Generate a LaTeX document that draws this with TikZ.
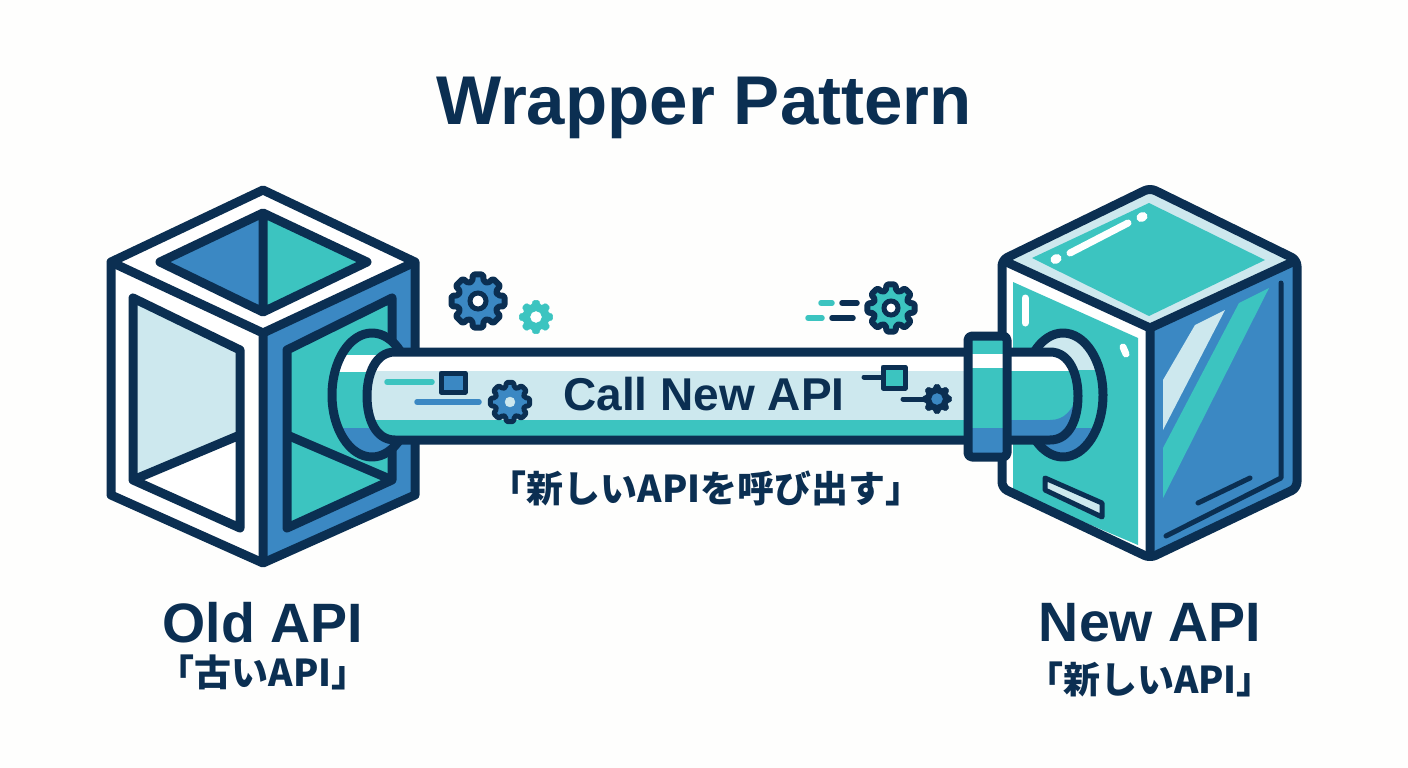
\documentclass[tikz,border=0pt]{standalone}
\usepackage{fontspec}
\setmainfont{Liberation Sans}
\newfontfamily\cjk{Noto Sans CJK JP}
\definecolor{navy}{HTML}{0B2F52}
\definecolor{azure}{HTML}{3B88C3}
\definecolor{aqua}{HTML}{3CC4C0}
\definecolor{pale}{HTML}{CDE8EE}
\definecolor{paper}{HTML}{FEFEFD}
\newcommand\gear[5]{%
  \begin{scope}[shift={(#1)}]
    \filldraw[#3, line join=round, rounded corners=1.5pt] (-16:#2*0.76)
      \foreach \a in {0,45,...,315} {
        -- (\a-16:#2*0.76) -- (\a-11:#2) -- (\a+11:#2) -- (\a+16:#2*0.76)
      } -- cycle;
    \filldraw[#4] (0,0) circle (#5);
  \end{scope}}
\begin{document}
\begin{tikzpicture}
      [x=1pt, y=-1pt,
      outline/.style={draw=navy, line width=9pt, line join=round},
      thin outline/.style={draw=navy, line width=5pt, line join=round},
      dash line/.style={line width=5.5pt, line cap=round},
      big label/.style={text=navy, font=\fontsize{55.5}{56}\selectfont\bfseries},
      sub label/.style={text=navy, font=\fontsize{37}{37}\selectfont\cjk\bfseries}]
      \useasboundingbox (0,0) rectangle (1408,768);
      \fill[paper] (0,0) rectangle (1408,768);
      \node[anchor=base, text=navy, font=\fontsize{69}{69}\selectfont\bfseries] (title) at (704,124) {Wrapper Pattern};
      % old cube
      \fill[white] (263,190) -- (415,262) -- (415,495) -- (263,563) -- (111,495) -- (111,262) -- cycle;
      \fill[azure] (263,333) -- (415,262) -- (415,495) -- (263,563) -- cycle;
      \fill[azure] (263,213) -- (263,312) -- (160,262) -- cycle;
      \fill[aqua] (263,213) -- (263,312) -- (367,262) -- cycle;
      \draw[outline] (263,213) -- (367,262) -- (263,312) -- (160,262) -- cycle (263,213) -- (263,312);
      \fill[pale] (133,298) -- (240,350) -- (240,435) -- (133,480) -- cycle;
      \draw[outline] (133,298) -- (240,350) -- (240,528) -- (133,480) -- cycle (133,480) -- (240,435);
      \filldraw[outline, fill=aqua] (287,350) -- (392,298) -- (392,480) -- (287,528) -- cycle;
      \draw[outline] (287,435) -- (392,480);
      \draw[outline] (263,190) -- (415,262) -- (415,495) -- (263,563) -- (111,495) -- (111,262) -- cycle;
      \draw[outline] (111,262) -- (263,333) -- (415,262) (263,333) -- (263,563);
      % old socket
      \begin{scope}
        \clip (372,395) ellipse [x radius=40, y radius=62];
        \fill[aqua] (320,330) rectangle (420,460);
        \fill[white] (320,355) rectangle (420,372);
        \fill[azure] (320,428) rectangle (420,460);
      \end{scope}
      \draw[outline] (372,395) ellipse [x radius=40, y radius=62];
      % new cube
      \fill[pale] (1150,188) -- (1297,260) -- (1150,328) -- (1002,260) -- cycle;
      \fill[aqua] (1149,203) -- (1265,260) -- (1149,316) -- (1032,258) -- cycle;
      \fill[white] (1002,260) -- (1150,328) -- (1150,558) -- (1002,488) -- cycle;
      \fill[aqua] (1013,282) -- (1138,338) -- (1138,545) -- (1013,492) -- cycle;
      \fill[azure] (1150,328) -- (1297,260) -- (1297,488) -- (1150,558) -- cycle;
      \fill[pale] (1225,310) -- (1195,325) -- (1163,380) -- (1163,430) -- cycle;
      \fill[aqua] (1269,288) -- (1239,303) -- (1163,448) -- (1163,498) -- cycle;
      \draw[navy, line width=5pt, line cap=round, line join=round] (1281,283) -- (1281,478) -- (1166,536);
      \draw[navy, line width=5pt, line cap=round] (1198,503) -- (1250,478);
      \draw[white, line width=7pt, line cap=round] (1070,253) -- (1128,223);
      \draw[white, line width=9pt, line cap=round] (1055,259.5) -- (1057,258.5) (1141,217.5) -- (1143,216.5);
      \draw[white, line width=7pt, line cap=round] (1025,298) -- (1025,323);
      \draw[white, line width=7pt, line cap=round] (1123,347) -- (1126,354);
      \filldraw[thin outline, fill=pale] (1045,478) -- (1102,503) -- (1102,517) -- (1045,490) -- cycle;
      \draw[outline, rounded corners=6pt] (1150,188) -- (1297,260) -- (1297,488) -- (1150,558) -- (1002,488) -- (1002,260) -- cycle;
      \draw[outline] (1002,260) -- (1150,328) -- (1297,260) (1150,328) -- (1150,558);
      % new socket
      \begin{scope}
        \clip (1063,395) ellipse [x radius=40, y radius=62];
        \fill[aqua] (1020,330) rectangle (1110,460);
        \fill[pale] (1040,335) rectangle (1110,370);
        \fill[azure] (1020,428) rectangle (1110,460);
      \end{scope}
      \draw[outline] (1063,395) ellipse [x radius=40, y radius=62];
      % pipe
      \begin{scope}
        \clip (395,352) -- (1050,352) .. controls (1070,352) and (1078,375) .. (1078,396)
          .. controls (1078,418) and (1070,440) .. (1050,440) -- (395,440)
          .. controls (375,440) and (367,418) .. (367,396) .. controls (367,375) and (375,352) .. (395,352);
        \fill[white] (360,350) rectangle (1080,372);
        \fill[pale] (360,371) rectangle (1000,421);
        \fill[aqua] (360,420) rectangle (1000,442);
        \fill[aqua] (1000,371) rectangle (1080,421);
        \fill[azure] (1000,420) -- (1050,420) .. controls (1065,420) and (1072,410) .. (1078,395) -- (1080,442) -- (1000,442) -- cycle;
      \end{scope}
      \draw[outline] (395,352) -- (1050,352) .. controls (1070,352) and (1078,375) .. (1078,396)
        .. controls (1078,418) and (1070,440) .. (1050,440) -- (395,440)
        .. controls (375,440) and (367,418) .. (367,396) .. controls (367,375) and (375,352) .. (395,352) -- cycle;
      % collar
      \fill[aqua] (968,336) rectangle (1007,457);
      \fill[white] (968,354) rectangle (1007,368);
      \fill[azure] (968,428) rectangle (1007,457);
      \draw[outline, rounded corners=4pt] (968,336) rectangle (1007,457);
      % pipe details
      \draw[aqua, dash line] (387,382) -- (432,382);
      \draw[azure, dash line] (417,402) -- (479,402);
      \filldraw[thin outline, fill=azure] (441,373) rectangle (465,392);
      \draw[navy, line width=5pt, line cap=round] (864,377) -- (883,377);
      \filldraw[thin outline, fill=aqua] (883,367) rectangle (905,388);
      \draw[navy, line width=5pt, line cap=round] (903,399) -- (925,399);
      \gear{478,301}{27}{fill=azure, draw=navy, line width=6pt}{draw=navy, line width=5pt, fill=white}{8}
      \gear{536,317}{17}{fill=aqua, draw=aqua}{fill=white, draw=white}{5.5}
      \gear{510,402}{20}{fill=azure, draw=navy, line width=5pt}{fill=pale, draw=pale}{5}
      \gear{891,308}{24}{fill=aqua, draw=navy, line width=6pt}{draw=navy, line width=5pt, fill=white}{7}
      \gear{937,399}{15}{fill=navy, draw=navy}{fill=azure, draw=azure}{5.5}
      \draw[aqua, dash line] (821,303) -- (832,303) (808,318) -- (822,318);
      \draw[navy, dash line] (842,303) -- (857,303) (832,318) -- (853,318);
      % labels
      \node[text=navy, font=\fontsize{46}{46}\selectfont\bfseries] (callnew) at (704,394) {Call New API};
      \node[sub label] (callsub) at (706,488) {「新しいAPIを呼び出す」};
      \node[big label] (oldname) at (263,623) {Old API};
      \node[sub label] (oldsub) at (263,672) {「古いAPI」};
      \node[big label] (newname) at (1150,623) {New API};
      \node[sub label] (newsub) at (1150,679) {「新しいAPI」};
    \end{tikzpicture}
\end{document}
